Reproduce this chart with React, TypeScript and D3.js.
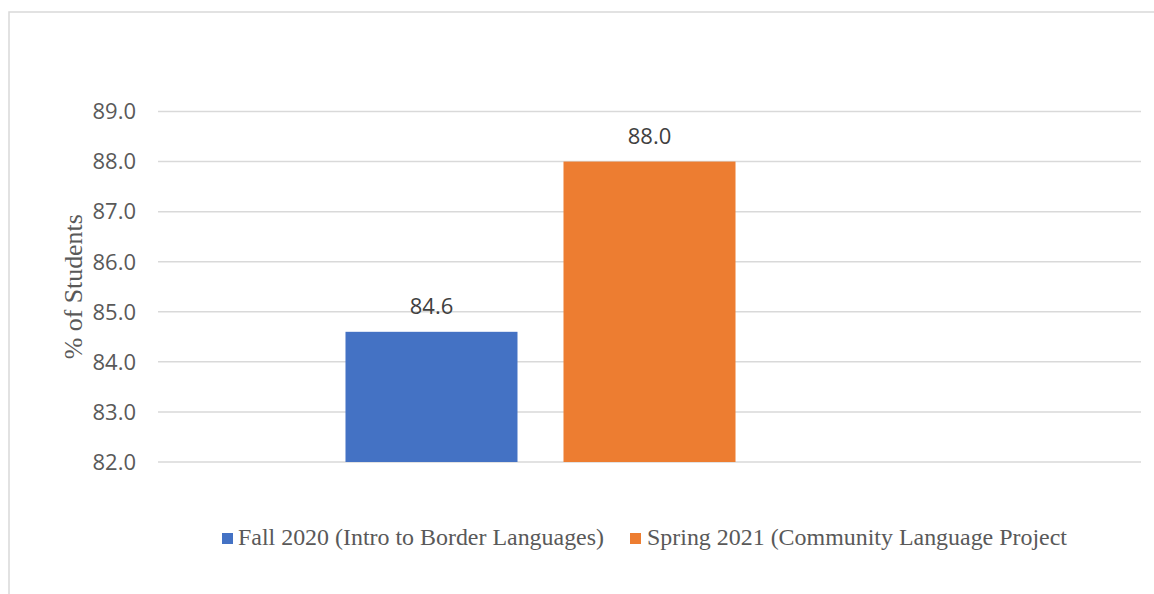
import React from "react";
import * as d3 from "d3";

// Data
const seriesNames = [
  "Fall 2020 (Intro to Border Languages)",
  "Spring 2021 (Community Language Project",
];
const seriesValues = [84.6, 88.0];
const seriesColors = ["#4472C4", "#ED7D31"];
// The chart reserves a third (empty, unlisted) series slot
const seriesSlots = [...seriesNames, "__empty__"];
const yTicks = [82, 83, 84, 85, 86, 87, 88, 89];
const yLabel = "% of Students";

const W = 1154;
const H = 594;
const plot = { left: 158, right: 1141, top: 111.5, bottom: 462 };

export default function App() {
  const y = d3.scaleLinear().domain([82, 89]).range([plot.bottom, plot.top]);
  const x = d3
    .scaleBand<string>()
    .domain(seriesSlots)
    .range([plot.left, plot.right])
    .paddingInner(0.211)
    .paddingOuter(0.86);
  const fmt = d3.format(".1f");
  const numFont = "'Open Sans', 'DejaVu Sans', sans-serif";
  const serif = "'Liberation Serif', 'Times New Roman', serif";

  const legendItems = [
    { sq: 222, tx: 238, len: 366 },
    { sq: 630, tx: 647, len: 420 },
  ];

  return (
    <svg
      width={W}
      height={H}
      style={{ position: "absolute", left: 0, top: 0, display: "block" }}
    >
      <rect x={0} y={0} width={W} height={H} fill="#ffffff" />
      <rect
        x={9}
        y={12}
        width={W + 20}
        height={H + 20}
        fill="#ffffff"
        stroke="#d9d9d9"
        strokeWidth={1.5}
      />
      {yTicks.map((t) => (
        <g key={t}>
          <line
            x1={plot.left}
            x2={plot.right}
            y1={y(t)}
            y2={y(t)}
            stroke="#d9d9d9"
            strokeWidth={1.5}
          />
          <text
            x={136}
            y={y(t)}
            dy="0.357em"
            textAnchor="end"
            fontFamily={numFont}
            fontSize={22}
            fill="#595959"
          >
            {fmt(t)}
          </text>
        </g>
      ))}
      {seriesNames.map((s, i) => {
        const x0 = x(s)!;
        const bw = x.bandwidth();
        const top = y(seriesValues[i]);
        return (
          <g key={s}>
            <rect
              x={x0}
              y={top}
              width={bw}
              height={y(82) - top}
              fill={seriesColors[i]}
            />
            <text
              x={x0 + bw / 2}
              y={top - 18}
              textAnchor="middle"
              fontFamily={numFont}
              fontSize={22}
              fill="#404040"
            >
              {fmt(seriesValues[i])}
            </text>
          </g>
        );
      })}
      <text
        transform={`translate(81.5, ${(plot.top + plot.bottom) / 2}) rotate(-90)`}
        textAnchor="middle"
        fontFamily={serif}
        fontSize={25}
        fill="#595959"
        textLength={145}
        lengthAdjust="spacingAndGlyphs"
      >
        {yLabel}
      </text>
      {seriesNames.map((s, i) => (
        <g key={"lg" + i}>
          <rect
            x={legendItems[i].sq}
            y={533}
            width={11}
            height={11}
            fill={seriesColors[i]}
          />
          <text
            x={legendItems[i].tx}
            y={545}
            fontFamily={serif}
            fontSize={24}
            fill="#595959"
            textLength={legendItems[i].len}
            lengthAdjust="spacingAndGlyphs"
          >
            {s}
          </text>
        </g>
      ))}
    </svg>
  );
}
